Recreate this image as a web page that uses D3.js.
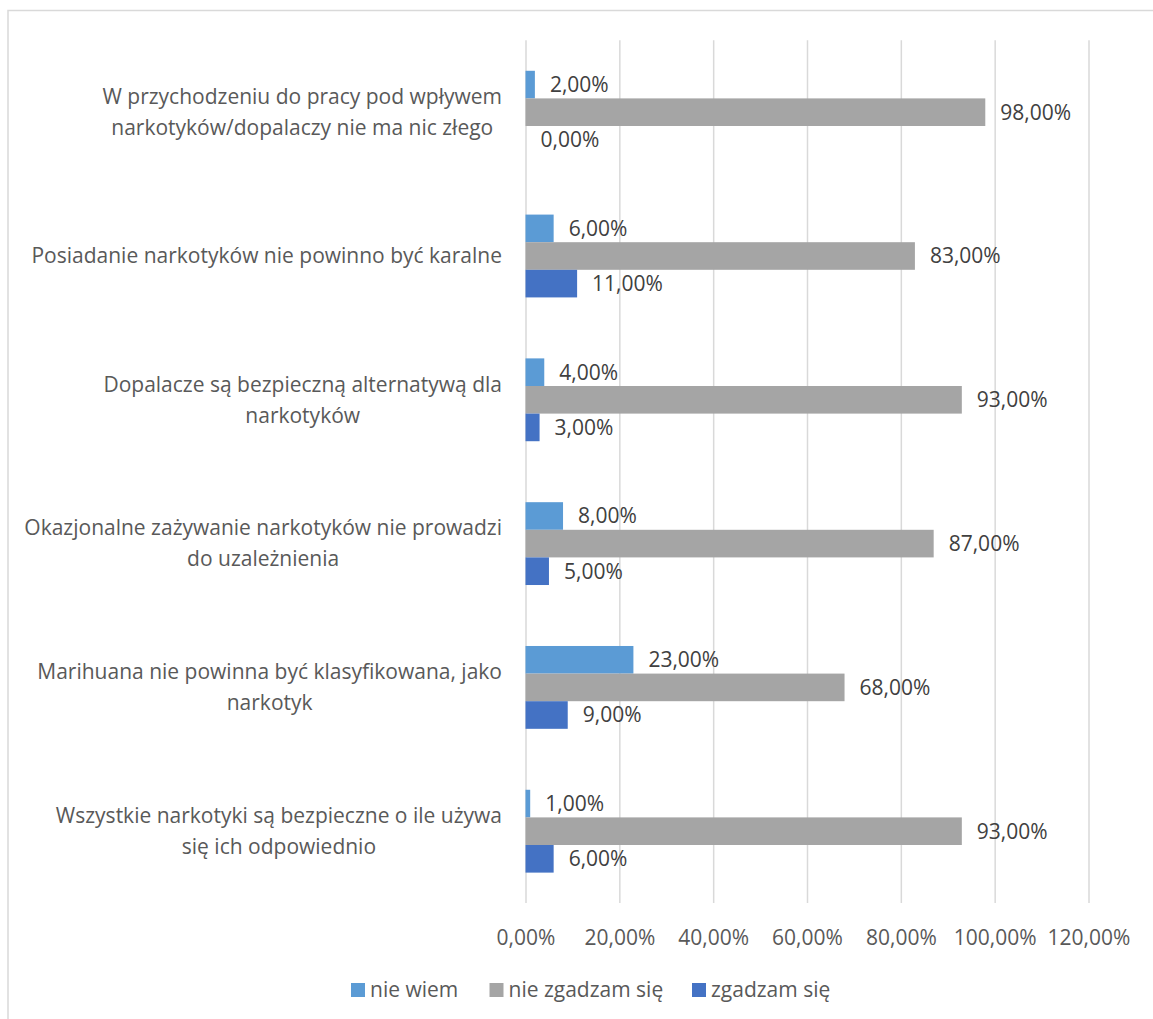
<!DOCTYPE html>
<html>
<head>
<meta charset="utf-8">
<script src="https://cdn.jsdelivr.net/npm/d3@7/dist/d3.min.js"></script>
<style>
  html, body { margin: 0; padding: 0; background: #fff; }
  svg { display: block; font-family: "Open Sans", sans-serif; }
</style>
</head>
<body>
<svg id="chart" width="1153" height="1019"></svg>
<script>
const categories = [
  ["W przychodzeniu do pracy pod wpływem", "narkotyków/dopalaczy nie ma nic złego"],
  ["Posiadanie narkotyków nie powinno być karalne"],
  ["Dopalacze są bezpieczną alternatywą dla", "narkotyków"],
  ["Okazjonalne zażywanie narkotyków nie prowadzi", "do uzależnienia"],
  ["Marihuana nie powinna być klasyfikowana, jako", "narkotyk"],
  ["Wszystkie narkotyki są bezpieczne o ile używa", "się ich odpowiednio"]
];
const seriesNames = ["nie wiem", "nie zgadzam się", "zgadzam się"];
const nieWiem = [2, 6, 4, 8, 23, 1];
const nieZgadzam = [98, 83, 93, 87, 68, 93];
const zgadzam = [0, 11, 3, 5, 9, 6];
const xTicks = [0, 20, 40, 60, 80, 100, 120];
const colors = ["#5B9BD5", "#A5A5A5", "#4472C4"];

const seriesValues = [nieWiem, nieZgadzam, zgadzam];
const fmt = v => v.toFixed(2).replace(".", ",") + "%";

const svg = d3.select("#chart");
const FS = 21;

// chart border
svg.append("rect")
  .attr("x", 8).attr("y", 10.5).attr("width", 1170).attr("height", 1030)
  .attr("fill", "#fff").attr("stroke", "#d9d9d9").attr("stroke-width", 1.5);

const x = d3.scaleLinear().domain([0, 120]).range([525.5, 1088.5]);
const y = d3.scaleBand().domain(d3.range(categories.length)).range([40.3, 903.1])
  .paddingInner(0.424).paddingOuter(0.212);
const ySub = d3.scaleBand().domain(d3.range(seriesNames.length)).range([0, y.bandwidth()]);

// gridlines via axis
const grid = svg.append("g").attr("transform", `translate(0,${903.1})`)
  .call(d3.axisBottom(x).tickValues(xTicks).tickSize(-(903.1 - 40.3)).tickFormat(""));
grid.select(".domain").remove();
grid.selectAll(".tick line").attr("stroke", "#d9d9d9").attr("stroke-width", 1.5);

// x tick labels
const xAxis = svg.append("g").attr("transform", `translate(0,${903.1})`)
  .call(d3.axisBottom(x).tickValues(xTicks).tickSize(0).tickPadding(0).tickFormat(fmt));
xAxis.select(".domain").remove();
xAxis.selectAll(".tick text")
  .attr("y", 35).attr("dy", "0.35em")
  .attr("fill", "#595959").style("font-size", FS + "px").style("font-family", "Open Sans");

// bars
seriesValues.forEach((vals, si) => {
  const g = svg.append("g");
  g.selectAll("rect").data(vals).join("rect")
    .attr("x", x(0))
    .attr("y", (d, i) => y(i) + ySub(si))
    .attr("width", d => x(d) - x(0))
    .attr("height", ySub.bandwidth())
    .attr("fill", colors[si]);
  g.selectAll("text").data(vals).join("text")
    .attr("x", d => x(d) + 15)
    .attr("y", (d, i) => y(i) + ySub(si) + ySub.bandwidth() / 2)
    .attr("dy", "0.35em")
    .attr("fill", "#404040")
    .style("font-size", FS + "px")
    .text(d => fmt(d));
});

// category labels
const lineH = 31;
const catG = svg.append("g");
categories.forEach((lines, i) => {
  const t = catG.append("text")
    .attr("fill", "#595959")
    .style("font-size", FS + "px")
    .attr("text-anchor", "middle");
  const cy = y(i) + y.bandwidth() / 2;
  lines.forEach((ln, j) => {
    t.append("tspan")
      .attr("y", cy + (j - (lines.length - 1) / 2) * lineH)
      .attr("dy", "0.35em")
      .text(ln);
  });
  let maxW = 0;
  t.selectAll("tspan").each(function() { maxW = Math.max(maxW, this.getComputedTextLength()); });
  t.selectAll("tspan").attr("x", 502 - maxW / 2);
});

// legend
const legendX = [351, 489.5, 692];
const leg = svg.append("g");
seriesNames.forEach((name, i) => {
  leg.append("rect").attr("x", legendX[i]).attr("y", 983).attr("width", 14).attr("height", 14)
    .attr("fill", colors[i]);
  leg.append("text").attr("x", legendX[i] + 19).attr("y", 990).attr("dy", "0.35em")
    .attr("fill", "#595959").style("font-size", FS + "px").text(name);
});
</script>
</body>
</html>
